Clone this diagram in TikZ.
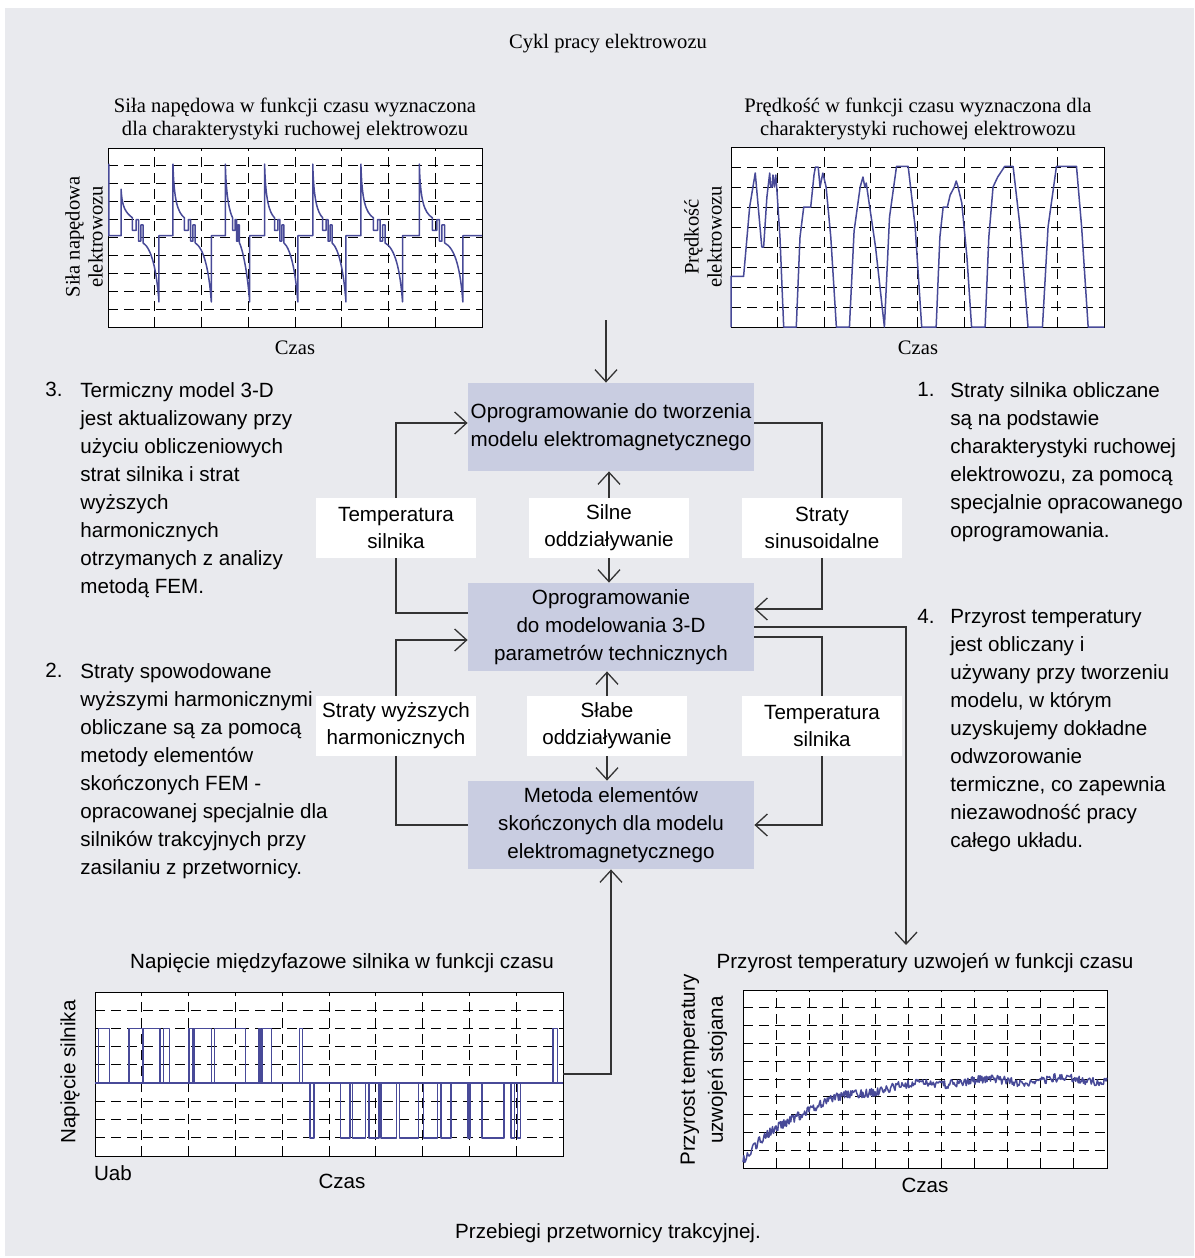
\documentclass[tikz,border=0pt]{standalone}
\usepackage{fontspec}
\setmainfont{Liberation Serif}
\setsansfont{Liberation Sans}
\usetikzlibrary{arrows.meta,positioning}
\definecolor{cyklbg}{RGB}{233,234,238}
\definecolor{cyklfill}{RGB}{201,205,225}
\definecolor{cyklblue}{RGB}{72,74,152}

\begin{document}
\begin{tikzpicture}[x=0.5pt,y=-0.5pt,
  cyklbox/.style = {fill=cyklfill, minimum width=143pt, minimum height=44pt, inner sep=0pt,
    align=center, font=\sffamily\fontsize{10.3}{14}\selectfont},
  cykllbl/.style = {fill=white, minimum width=80pt, minimum height=30pt, inner sep=0pt,
    align=center, font=\sffamily\fontsize{10.3}{13.5}\selectfont},
  cyklline/.style = {draw=black!80, line width=0.65pt},
  cyklarr/.style = {cyklline, -{Straight Barb[length=6pt,width=11pt]}},
  cyklnote/.style = {inner sep=0pt, align=left, font=\sffamily\fontsize{10.3}{14}\selectfont},
  cyklserif/.style = {inner sep=0pt, align=center, font=\rmfamily\fontsize{10.3}{11.5}\selectfont},
  cyklsans/.style = {inner sep=0pt, align=center, font=\sffamily\fontsize{10.3}{14}\selectfont},
  cyklframe/.style = {draw, line width=0.5pt, fill=white, inner sep=0pt, outer sep=0pt},
  cyklgrid/.style = {line width=0.45pt, dash pattern=on 5pt off 3pt},
  cyklcurve/.style = {draw=cyklblue, line width=0.75pt, line join=round}
]
  % tlo
  \useasboundingbox (0,0) rectangle (1194,1258);
  \fill[white] (0,0) rectangle (1194,1258);
  \fill[cyklbg] (5,8) rectangle (1194,1256);

  % naglowek i stopka
  \node[cyklserif] (cykl) at (608,44) {Cykl pracy elektrowozu};
  \node[cyklsans] (przebiegi) at (608,1233) {Przebiegi przetwornicy trakcyjnej.};

  % sila napedowa
  \node[cyklframe, minimum width=187pt, minimum height=89.5pt] (silaplot) at (295,237.5) {};
  \node[cyklserif] (silatitle) at (295,119) {Siła napędowa w funkcji czasu wyznaczona\\dla charakterystyki ruchowej elektrowozu};
  \node[cyklserif, rotate=90] (silay) at (84,237) {Siła napędowa\\elektrowozu};
  \node[cyklserif] (silax) at (295,348) {Czas};
  \begin{scope}[shift={(silaplot.south west)}, x=23.375pt, y=8.95pt]
    \foreach \i in {1,...,7} \draw[cyklgrid] (\i,0) -- (\i,10);
    \foreach \j in {1,...,9} \draw[cyklgrid] (0,\j) -- (8,\j);
    \draw[cyklcurve] (0,5.1) -- (0.02,5.1) -- (0.02,9.1) -- (0.02,5.1)
      foreach \st/\mn/\pk in {0.28/1.09/7.7, 1.39/2.21/9.1, 2.51/3.03/9.1, 3.35/4.06/9.1,
                              4.38/5.09/9.1, 5.41/6.30/9.1, 6.66/7.59/9.1} {
        -- (\st,5.1) -- (\st,\pk)
        .. controls ({\st+0.02},{\pk-0.7*(\pk-6.2)}) and ({\st+0.1},6.4) .. ({\st+0.3*(\mn-\st)},6.1)
        -- ({\st+0.3*(\mn-\st)},5.4) -- ({\st+0.4*(\mn-\st)},5.4)
        -- ({\st+0.4*(\mn-\st)},6.0) -- ({\st+0.46*(\mn-\st)},6.0)
        -- ({\st+0.46*(\mn-\st)},4.8) -- ({\st+0.52*(\mn-\st)},4.8)
        -- ({\st+0.52*(\mn-\st)},5.7) -- ({\st+0.58*(\mn-\st)},5.7)
        -- ({\st+0.58*(\mn-\st)},4.7)
        .. controls ({\mn-0.16},4.4) and ({\mn-0.05},3.2) .. (\mn,1.4) -- (\mn,5.1)
      } -- (8,5.1);
  \end{scope}

  % predkosc
  \node[cyklframe, minimum width=186.5pt, minimum height=90pt] (predplot) at (917.5,237) {};
  \node[cyklserif] (predtitle) at (918,119) {Prędkość w funkcji czasu wyznaczona dla\\charakterystyki ruchowej elektrowozu};
  \node[cyklserif, rotate=90] (predy) at (703,237) {Prędkość\\elektrowozu};
  \node[cyklserif] (predx) at (918,348) {Czas};
  \begin{scope}[shift={(predplot.south west)}, x=23.3125pt, y=10pt]
    \foreach \i in {1,...,7} \draw[cyklgrid] (\i,0) -- (\i,9);
    \foreach \j in {1,...,8} \draw[cyklgrid] (0,\j) -- (8,\j);
    \draw[cyklcurve] plot coordinates {(0,0) (0,2.53) (0.27,2.53) (0.4,6.0) (0.52,7.7) (0.66,4.0)
      (0.70,4.0) (0.77,6.5) (0.83,7.7) (0.85,7.0) (0.88,7.0) (0.90,7.6) (0.93,7.0) (0.96,7.6)
      (0.98,7.0) (1.05,4.5) (1.13,0) (1.40,0) (1.48,4.5) (1.56,6.0) (1.71,6.0) (1.78,7.6)
      (1.81,8.0) (1.87,8.0) (1.91,7.0) (1.97,7.7) (2.04,7.0) (2.14,4.5) (2.26,0) (2.54,0)
      (2.64,4.8) (2.77,7.0) (2.83,7.5) (2.87,7.0) (2.90,7.2) (3.10,4.0) (3.29,0) (3.40,5.5)
      (3.55,8.03) (3.80,8.03) (3.95,5.0) (4.09,0) (4.40,0) (4.48,4.5) (4.55,6.0) (4.64,6.0)
      (4.70,6.6) (4.79,7.0) (4.83,7.3) (4.87,7.0) (4.95,6.2) (5.06,3.5) (5.16,0) (5.45,0)
      (5.53,4.5) (5.62,7.0) (5.72,7.5) (5.87,8.03) (6.05,8.03) (6.20,5.0) (6.37,0) (6.68,0)
      (6.80,5.0) (6.98,8.03) (7.41,8.03) (7.52,5.0) (7.66,0) (8,0)};
  \end{scope}

  % napiecie miedzyfazowe
  \node[cyklframe, minimum width=234pt, minimum height=82pt] (napplot) at (329,1074) {};
  \node[cyklsans] (naptitle) at (342,963) {Napięcie międzyfazowe silnika w funkcji czasu};
  \node[cyklsans, rotate=90] (napy) at (70,1072) {Napięcie silnika};
  \node[cyklsans] (uab) at (113,1173) {Uab};
  \node[cyklsans] (napx) at (342,1181) {Czas};
  \begin{scope}[shift={(napplot.south west)}, x=23.4pt, y=9.111pt]
    \foreach \i in {1,...,9} \draw[cyklgrid] (\i,0) -- (\i,9);
    \foreach \j in {1,...,8} \draw[cyklgrid] (0,\j) -- (10,\j);
    \draw[cyklcurve] (0,4) -- (10,4);
    \foreach \a/\b in {0.07/0.31, 0.73/1.01, 1.04/1.39, 1.46/1.59, 2.01/2.08, 2.12/2.49,
                       2.55/3.22, 3.50/3.55, 3.58/3.77, 4.37/4.43, 9.79/9.88}
      \draw[cyklcurve] (\a,4) rectangle (\b,7);
    \foreach \a/\b in {4.59/4.68, 5.25/5.45, 5.50/5.78, 5.85/6.07, 6.11/6.44, 6.51/6.91,
                       7.02/7.32, 7.39/7.61, 7.97/8.01, 8.27/8.74, 8.89/8.96, 9.03/9.09}
      \draw[cyklcurve] (\a,4) rectangle (\b,1);
  \end{scope}

  % przyrost temperatury
  \node[cyklframe, minimum width=182pt, minimum height=89pt] (tempplot) at (925,1079) {};
  \node[cyklsans] (temptitle) at (925,963) {Przyrost temperatury uzwojeń w funkcji czasu};
  \node[cyklsans, rotate=90] (tempy) at (704,1070) {Przyrost temperatury\\uzwojeń stojana};
  \node[cyklsans] (tempx) at (925,1185) {Czas};
  \coordinate (tempin) at (906,945);
  \begin{scope}[shift={(tempplot.south west)}, x=16.545pt, y=8.9pt]
    \foreach \i in {1,...,10} \draw[cyklgrid] (\i,0) -- (\i,10);
    \foreach \j in {1,...,9} \draw[cyklgrid] (0,\j) -- (11,\j);
    \pgfmathsetseed{17}
    \draw[cyklcurve] plot[domain=0:11, samples=420]
      (\x, {0.4+4.6*(1-exp(-\x/2))+0.1*sin(160*\x)+0.5*(rnd-0.5)});
  \end{scope}

  % bloki
  \node[cyklbox] (modelem) at (611,427) {Oprogramowanie do tworzenia\\modelu elektromagnetycznego};
  \node[cyklbox] (model3d) at (611,627) {Oprogramowanie\\do modelowania 3-D\\parametrów technicznych};
  \node[cyklbox] (fem) at (611,825) {Metoda elementów\\skończonych dla modelu\\elektromagnetycznego};
  \node[cykllbl] (tempa) at (396,528) {Temperatura\\silnika};
  \node[cykllbl] (silne) at (609,528) {Silne\\oddziaływanie};
  \node[cykllbl] (stratys) at (822,528) {Straty\\sinusoidalne};
  \node[cykllbl] (stratyw) at (396,726) {Straty wyższych\\harmonicznych};
  \node[cykllbl] (slabe) at (607,726) {Słabe\\oddziaływanie};
  \node[cykllbl] (tempb) at (822,726) {Temperatura\\silnika};
  \coordinate (cyklin) at (606,320);

  % opisy
  \node[cyklnote, anchor=north west] (note3) at (80,382) {Termiczny model 3-D\\jest aktualizowany przy\\użyciu obliczeniowych\\strat silnika i strat\\wyższych\\harmonicznych\\otrzymanych z analizy\\metodą FEM.};
  \node[cyklnote, anchor=north east] (num3) at (63,382) {3.};
  \node[cyklnote, anchor=north west] (note2) at (80,663) {Straty spowodowane\\wyższymi harmonicznymi\\obliczane są za pomocą\\metody elementów\\skończonych FEM -\\opracowanej specjalnie dla\\silników trakcyjnych przy\\zasilaniu z przetwornicy.};
  \node[cyklnote, anchor=north east] (num2) at (63,663) {2.};
  \node[cyklnote, anchor=north west] (note1) at (950,382) {Straty silnika obliczane\\są na podstawie\\charakterystyki ruchowej\\elektrowozu, za pomocą\\specjalnie opracowanego\\oprogramowania.};
  \node[cyklnote, anchor=north east] (num1) at (935,382) {1.};
  \node[cyklnote, anchor=north west] (note4) at (950,609) {Przyrost temperatury\\jest obliczany i\\używany przy tworzeniu\\modelu, w którym\\uzyskujemy dokładne\\odwzorowanie\\termiczne, co zapewnia\\niezawodność pracy\\całego układu.};
  \node[cyklnote, anchor=north east] (num4) at (935,609) {4.};

  % polaczenia
  \draw[cyklarr] (cyklin) -- (cyklin |- modelem.north);
  \draw[cyklarr] (silne.north) -- (silne.north |- modelem.south);
  \draw[cyklarr] (silne.south) -- (silne.south |- model3d.north);
  \draw[cyklarr] (slabe.north) -- (slabe.north |- model3d.south);
  \draw[cyklarr] (slabe.south) -- (slabe.south |- fem.north);
  \draw[cyklline] ([yshift=7pt]model3d.west) -| (tempa.south);
  \draw[cyklarr] (tempa.north) |- ([yshift=2pt]modelem.west);
  \draw[cyklline] ([yshift=2pt]modelem.east) -| (stratys.north);
  \draw[cyklarr] (stratys.south) |- ([yshift=9pt]model3d.east);
  \draw[cyklline] (fem.west) -| (stratyw.south);
  \draw[cyklarr] (stratyw.north) |- ([yshift=-6.5pt]model3d.west);
  \draw[cyklline] ([yshift=-5pt]model3d.east) -| (tempb.north);
  \draw[cyklarr] (tempb.south) |- (fem.east);
  \draw[cyklarr] (model3d.east) -| (tempin);
  \draw[cyklarr] (napplot.east) -| (fem.south);
\end{tikzpicture}
\end{document}
